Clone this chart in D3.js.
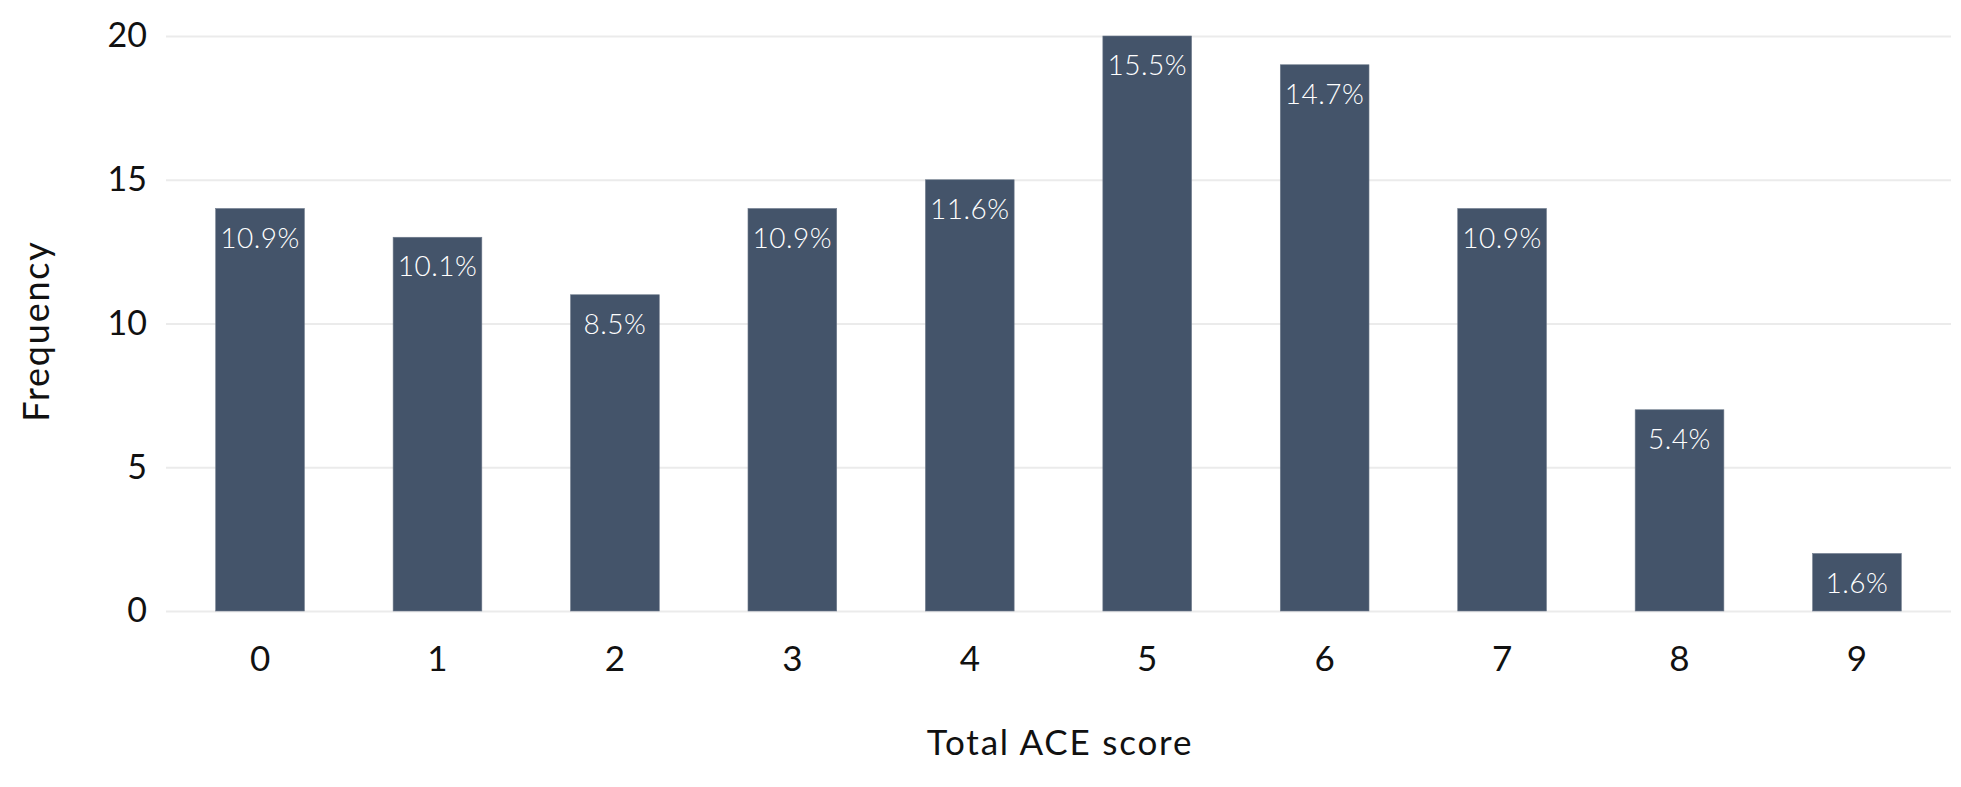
<!DOCTYPE html>
<html>
<head>
<meta charset="utf-8">
<script src="https://cdn.jsdelivr.net/npm/d3@7"></script>
<style>
  html, body { margin: 0; padding: 0; background: #fff; }
  svg { display: block; }
  text { font-family: Lato, "Noto Sans", sans-serif; }
</style>
</head>
<body>
<div id="chart"></div>
<script>
const categories = ["0", "1", "2", "3", "4", "5", "6", "7", "8", "9"];
const frequency = [14, 13, 11, 14, 15, 20, 19, 14, 7, 2];
const percentLabels = ["10.9%", "10.1%", "8.5%", "10.9%", "11.6%", "15.5%", "14.7%", "10.9%", "5.4%", "1.6%"];
const yTicks = [0, 5, 10, 15, 20];
const xTitle = "Total ACE score";
const yTitle = "Frequency";

const W = 1961, H = 787;
const margin = { left: 166, right: 10, top: 36, bottom: 176 };

const svg = d3.select("#chart").append("svg")
  .attr("width", W).attr("height", H);

const x = d3.scaleBand()
  .domain(categories)
  .range([margin.left, W - margin.right])
  .paddingInner(0.5)
  .paddingOuter(0.28);

const y = d3.scaleLinear()
  .domain([0, 20])
  .range([H - margin.bottom, margin.top]);

// gridlines
const yAxis = d3.axisLeft(y).tickValues(yTicks)
  .tickSize(-(W - margin.right - margin.left))
  .tickPadding(19);

const gy = svg.append("g")
  .attr("transform", `translate(${margin.left},0)`)
  .call(yAxis);
gy.select(".domain").remove();
gy.selectAll(".tick line").attr("stroke", "#ebebeb").attr("stroke-width", 2.2);
gy.selectAll(".tick text")
  .attr("font-size", 34)
  .attr("fill", "#111")
  .attr("font-family", "Lato, 'Noto Sans', sans-serif");

// bars
svg.append("g").selectAll("rect")
  .data(categories)
  .join("rect")
  .attr("x", d => x(d))
  .attr("width", x.bandwidth())
  .attr("y", (d, i) => y(frequency[i]))
  .attr("height", (d, i) => y(0) - y(frequency[i]))
  .attr("fill", "#44546a")
  .attr("stroke", "#6f7b8c")
  .attr("stroke-width", 0.6);

// bar labels
svg.append("g").selectAll("text")
  .data(categories)
  .join("text")
  .attr("x", d => x(d) + x.bandwidth() / 2)
  .attr("y", (d, i) => y(frequency[i]) + 39)
  .attr("text-anchor", "middle")
  .attr("fill", "#ffffff")
  .attr("font-size", 28)
  .attr("font-weight", 300)
  .attr("letter-spacing", 0.5)
  .text((d, i) => percentLabels[i]);

// x axis
const xAxis = d3.axisBottom(x).tickSize(0).tickPadding(35);
const gx = svg.append("g")
  .attr("transform", `translate(0,${y(0)})`)
  .call(xAxis);
gx.select(".domain").remove();
gx.selectAll(".tick text")
  .attr("font-size", 35)
  .attr("fill", "#111")
  .attr("font-family", "Lato, 'Noto Sans', sans-serif");

// titles
svg.append("text")
  .attr("x", 1060)
  .attr("y", 755)
  .attr("text-anchor", "middle")
  .attr("font-size", 35)
  .attr("letter-spacing", 1.8)
  .attr("fill", "#111")
  .text(xTitle);

svg.append("text")
  .attr("transform", `translate(49,331) rotate(-90)`)
  .attr("text-anchor", "middle")
  .attr("font-size", 36)
  .attr("letter-spacing", 1.8)
  .attr("fill", "#111")
  .text(yTitle);
</script>
</body>
</html>
